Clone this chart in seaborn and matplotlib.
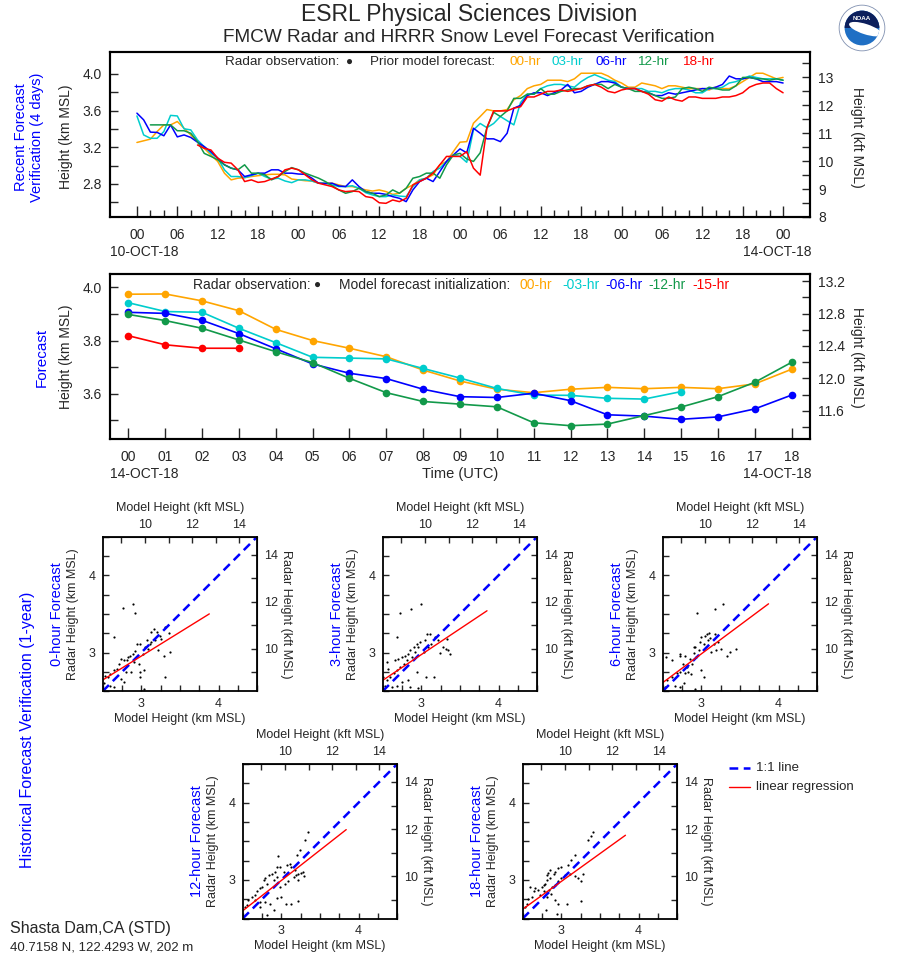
import numpy as np
import pandas as pd
import seaborn as sns
import matplotlib.pyplot as plt
from matplotlib.ticker import MultipleLocator, FixedLocator, FuncFormatter, FormatStrFormatter
from matplotlib.patches import Circle, Wedge, Ellipse
from matplotlib.lines import Line2D

sns.set_style("ticks")
plt.rcParams["font.family"] = ["Liberation Sans", "DejaVu Sans"]

W, H = 898, 956
KM_PER_KFT = 0.3048

# -------------------------
# data
# -------------------------
# recent 4-day verification, hourly, kft MSL (every series ends at hour 96)
leads_top = ["00-hr", "03-hr", "06-hr", "12-hr", "18-hr"]
colors = ["#ffa500", "#00cdcd", "#0000ff", "#12994a", "#ff0000"]

top_00 = [10.67, 10.73, 10.79, 11.06, 11.30, 11.30, 11.42, 11.18, 10.94, 10.70,
          10.46, 10.22, 9.99, 9.57, 9.33, 9.39, 9.41, 9.45, 9.48, 9.51,
          9.53, 9.53, 9.51, 9.36, 9.33, 9.30, 9.29, 9.21, 9.21, 9.21,
          9.15, 9.09, 9.09, 9.03, 8.97, 8.93, 8.97, 8.91, 8.81, 8.85,
          9.03, 9.15, 9.33, 9.39, 9.51, 9.87, 9.99, 10.34, 10.68, 10.70,
          11.36, 11.60, 11.85, 11.80, 11.80, 11.85, 12.20, 12.35, 12.60, 12.70,
          12.75, 12.90, 12.90, 12.90, 12.85, 12.95, 13.15, 13.15, 13.15, 13.15,
          13.05, 12.90, 12.80, 12.65, 12.65, 12.80, 12.75, 12.70, 12.60, 12.70,
          12.70, 12.65, 12.60, 12.60, 12.60, 12.55, 12.65, 12.60, 12.60, 12.70,
          12.85, 13.00, 13.15, 13.15, 13.05, 12.95, 13.00]
top_03 = [11.62, 10.94, 10.82, 10.82, 11.06, 11.64, 11.62, 11.16, 11.12, 10.76,
          10.52, 10.28, 10.11, 9.69, 9.45, 9.45, 9.41, 9.48, 9.57, 9.45,
          9.36, 9.39, 9.29, 9.23, 9.33, 9.33, 9.29, 9.21, 9.21, 9.15,
          9.09, 9.09, 9.12, 9.03, 8.87, 8.79, 8.73, 8.73, 8.79, 8.75,
          8.73, 9.09, 9.33, 9.39, 9.63, 9.75, 9.99, 10.22, 10.17, 9.96,
          11.12, 11.35, 11.20, 11.35, 11.60, 11.45, 11.30, 12.10, 12.40, 12.40,
          12.60, 12.70, 12.75, 12.75, 12.70, 12.65, 12.85, 13.00, 13.10, 13.00,
          12.90, 12.85, 12.65, 12.60, 12.60, 12.60, 12.50, 12.50, 12.45, 12.55,
          12.60, 12.60, 12.55, 12.45, 12.45, 12.60, 12.60, 12.65, 12.80, 12.85,
          12.95, 13.05, 13.00, 12.95, 12.95, 12.95, 12.90]
top_06 = [11.72, 11.48, 11.04, 11.03, 10.91, 11.30, 10.87, 10.94, 10.85, 10.68,
          10.52, 10.34, 10.11, 9.87, 9.75, 9.69, 9.45, 9.51, 9.57, 9.57,
          9.69, 9.69, 9.57, 9.57, 9.54, 9.53, 9.39, 9.21, 9.20, 9.21,
          9.11, 9.09, 9.33, 9.09, 8.91, 8.85, 8.85, 8.81, 8.73, 8.67,
          8.55, 8.97, 9.27, 9.39, 9.27, 9.63, 9.99, 10.22, 10.44, 10.30,
          11.18, 11.00, 10.80, 10.80, 10.70, 11.00, 11.90, 12.00, 12.35, 12.45,
          12.45, 12.35, 12.45, 12.55, 12.75, 12.45, 12.50, 12.65, 12.75, 12.85,
          12.85, 12.80, 12.65, 12.60, 12.60, 12.50, 12.45, 12.35, 12.35, 12.45,
          12.40, 12.45, 12.50, 12.55, 12.60, 12.60, 12.65, 12.75, 13.05, 12.95,
          12.95, 13.00, 12.95, 12.85, 12.85, 12.85, 12.80]
top_12 = [11.30, 11.30, 11.30, 11.30, 11.09, 11.09, 11.00, 10.70,
          10.28, 10.17, 10.05, 9.87, 9.75, 9.69, 9.87, 9.57, 9.57, 9.51,
          9.33, 9.45, 9.63, 9.77, 9.69, 9.57, 9.48, 9.39, 9.27, 9.12,
          8.97, 8.85, 8.91, 9.03, 8.91, 8.85, 8.73, 8.79, 8.97, 8.85,
          9.03, 9.39, 9.45, 9.57, 9.57, 9.39, 9.87, 10.22, 10.28, 10.08,
          9.99, 10.30, 11.20, 11.75, 11.60, 11.80, 12.25, 12.25, 12.40, 12.40,
          12.60, 12.40, 12.40, 12.50, 12.55, 12.60, 12.60, 12.70, 12.75, 12.75,
          12.60, 12.75, 12.65, 12.60, 12.50, 12.50, 12.45, 12.35, 12.25, 12.25,
          12.30, 12.60, 12.65, 12.60, 12.50, 12.65, 12.60, 12.55, 12.55, 12.70,
          13.00, 13.00, 12.95, 12.95, 12.90, 12.95, 12.90]
top_18 = [10.58,
          10.46, 10.40, 10.11, 9.96, 9.93, 9.69, 9.27, 9.33, 9.24, 9.27,
          9.36, 9.45, 9.69, 9.75, 9.69, 9.51, 9.33, 9.21, 9.15, 9.09,
          8.97, 8.91, 8.93, 8.91, 8.73, 8.69, 8.51, 8.49, 8.61, 8.55,
          8.67, 9.15, 9.27, 9.39, 9.57, 9.87, 10.17, 10.17, 10.17, 10.34,
          9.75, 9.50, 11.20, 11.80, 11.80, 11.80, 11.90, 11.95, 12.30, 12.30,
          12.40, 12.50, 12.50, 12.55, 12.50, 12.55, 12.60, 12.70, 12.75, 12.65,
          12.50, 12.45, 12.55, 12.60, 12.60, 12.50, 12.40, 12.20, 12.15, 12.30,
          12.20, 12.15, 12.30, 12.30, 12.25, 12.25, 12.25, 12.30, 12.30, 12.35,
          12.45, 12.65, 12.75, 12.80, 12.80, 12.60, 12.45]

# today's forecast, km MSL, hours 00-18 UTC (series start at 00)
leads_mid = ["00-hr", "-03-hr", "-06-hr", "-12-hr", "-15-hr"]
mid_00 = [3.974, 3.975, 3.949, 3.912, 3.842, 3.800, 3.771, 3.739, 3.689, 3.648,
          3.617, 3.604, 3.617, 3.624, 3.619, 3.624, 3.619, 3.637, 3.692]
mid_03 = [3.942, 3.909, 3.906, 3.846, 3.792, 3.737, 3.734, 3.731, 3.695, 3.659,
          3.620, 3.595, 3.594, 3.583, 3.580, 3.608]
mid_06 = [3.906, 3.902, 3.876, 3.826, 3.769, 3.712, 3.677, 3.657, 3.617, 3.589,
          3.586, 3.602, 3.574, 3.521, 3.516, 3.504, 3.513, 3.543, 3.595]
mid_12 = [3.898, 3.875, 3.846, 3.802, 3.758, 3.717, 3.658, 3.604, 3.571, 3.561,
          3.551, 3.491, 3.480, 3.486, 3.518, 3.550, 3.589, 3.643, 3.718]
mid_15 = [3.818, 3.784, 3.771, 3.771]

# 1-year verification scatter (model km, radar km)
sc_titles = ["0-hour Forecast", "3-hour Forecast", "6-hour Forecast",
             "12-hour Forecast", "18-hour Forecast"]
p0_x = [2.76, 2.89, 2.92, 2.65, 3.17, 3.20, 3.24, 3.30, 3.36, 3.29, 3.37, 3.18, 3.11, 3.05, 2.98,
        2.94, 2.92, 2.89, 2.85, 2.82, 2.77, 2.74, 2.71, 2.68, 2.64, 2.60, 2.57, 2.53, 2.52, 2.59,
        2.65, 2.77, 2.86, 2.98, 3.03, 2.97, 2.90, 2.98, 3.03, 3.30, 3.13, 3.22, 3.09, 3.02, 2.80,
        2.74, 2.83, 3.13, 3.07, 3.26]
p0_y = [3.58, 3.63, 3.51, 3.20, 3.31, 3.27, 3.22, 3.33, 3.25, 2.95, 3.01, 3.16, 3.11, 3.07, 3.11,
        3.11, 3.02, 2.98, 2.96, 2.90, 2.91, 2.92, 2.85, 2.79, 2.77, 2.72, 2.68, 2.70, 2.60, 2.57,
        2.55, 2.62, 2.75, 2.75, 2.77, 2.85, 2.88, 2.68, 2.53, 2.68, 3.14, 3.03, 3.05, 2.98, 2.75,
        2.66, 2.94, 3.27, 3.16, 3.18]
p3_x = [2.72, 2.86, 3.00, 2.68, 2.55, 2.66, 2.70, 2.75, 2.79, 2.83, 2.85, 2.90, 2.94, 2.98, 2.96,
        2.92, 2.88, 2.81, 2.77, 2.72, 2.68, 2.64, 2.59, 2.55, 2.53, 2.62, 2.68, 2.75, 2.83, 2.95,
        3.06, 3.16, 2.85, 2.96, 3.03, 3.09, 3.11, 3.18, 3.22, 3.24, 3.28, 3.32, 3.35, 3.37, 3.33,
        3.07, 3.05, 3.13, 2.57, 2.51]
p3_y = [3.51, 3.57, 3.63, 3.20, 2.88, 2.91, 2.92, 2.94, 2.96, 2.98, 3.03, 3.07, 3.11, 3.14, 3.07,
        3.01, 2.94, 2.90, 2.85, 2.81, 2.77, 2.73, 2.68, 2.64, 2.57, 2.55, 2.57, 2.62, 2.64, 2.75,
        2.68, 2.68, 2.55, 2.54, 3.01, 3.07, 3.24, 3.20, 3.16, 2.99, 3.07, 3.05, 3.03, 2.98, 3.18,
        3.24, 3.16, 3.11, 2.79, 2.68]
p6_x = [3.18, 3.28, 2.95, 2.54, 2.62, 2.72, 2.79, 2.73, 2.85, 2.90, 2.92, 2.98, 3.00, 3.05, 3.07,
        3.10, 3.11, 3.18, 3.03, 2.97, 2.93, 2.88, 2.83, 2.79, 2.72, 2.68, 2.62, 2.55, 2.53, 2.66,
        2.72, 2.78, 2.92, 3.00, 3.03, 2.86, 2.81, 2.76, 3.13, 3.19, 3.25, 3.33, 3.37, 3.45, 3.16,
        3.08, 3.22, 2.90]
p6_y = [3.57, 3.63, 3.51, 2.94, 2.90, 2.95, 2.95, 2.98, 2.92, 2.99, 3.07, 3.14, 3.20, 3.22, 3.24,
        3.25, 3.19, 3.24, 3.11, 3.03, 2.94, 2.85, 2.75, 2.73, 2.75, 2.73, 2.68, 2.64, 2.55, 2.57,
        2.55, 2.60, 2.53, 2.77, 2.68, 2.72, 2.81, 2.85, 3.01, 3.03, 3.05, 2.96, 3.01, 3.04, 3.11,
        3.16, 3.14, 3.07]
p12_x = [3.35, 3.31, 2.96, 3.24, 3.20, 3.11, 3.07, 2.98, 2.94, 2.92, 2.88, 2.84, 2.79, 2.77, 2.82,
         2.75, 2.72, 2.68, 2.66, 2.62, 2.57, 2.55, 2.53, 2.66, 2.72, 2.79, 2.85, 2.94, 3.00, 3.06,
         3.12, 3.22, 2.90, 2.82, 2.72, 2.98, 3.05, 3.09, 3.16, 3.19, 3.22, 3.25, 3.28, 3.29, 3.22,
         3.18, 3.13, 3.03, 2.95, 2.90]
p12_y = [3.62, 3.52, 3.31, 3.39, 3.32, 3.21, 3.19, 3.17, 3.17, 3.10, 3.08, 3.06, 3.02, 3.00, 2.95,
         2.91, 2.89, 2.85, 2.80, 2.78, 2.74, 2.67, 2.65, 2.74, 2.72, 2.72, 2.69, 2.76, 2.78, 2.69,
         2.69, 2.73, 2.61, 2.54, 2.65, 2.91, 2.95, 2.98, 3.04, 3.06, 3.08, 3.09, 3.10, 3.05, 3.00,
         3.13, 3.17, 3.10, 3.04, 3.00]
p18_x = [3.41, 3.38, 3.35, 2.85, 2.83, 2.81, 3.18, 3.13, 3.09, 3.00, 2.96, 2.92, 2.90, 2.85, 2.82,
         2.79, 2.77, 2.75, 2.70, 2.65, 2.62, 2.57, 2.55, 2.53, 2.59, 2.66, 2.72, 2.81, 2.86, 2.92,
         2.96, 3.07, 2.80, 2.94, 3.25, 3.22, 3.18, 3.26, 3.28, 3.11, 3.05, 3.00, 2.96, 2.92, 2.88,
         2.84, 2.77]
p18_y = [3.62, 3.57, 3.52, 3.13, 3.09, 3.06, 3.32, 3.26, 3.19, 3.17, 3.16, 3.10, 3.08, 3.02, 3.00,
         2.95, 2.93, 2.91, 2.87, 2.85, 2.78, 2.75, 2.69, 2.65, 2.91, 2.89, 2.80, 2.78, 2.82, 2.74,
         2.69, 2.69, 2.61, 2.56, 2.73, 3.02, 3.05, 2.98, 3.08, 3.08, 3.06, 3.02, 2.98, 2.93, 2.91,
         2.87, 2.85]
reg_slope = [0.620, 0.667, 0.745, 0.784, 0.720]
reg_icpt = [1.095, 0.973, 0.748, 0.640, 0.820]
reg_xmax = [3.88, 3.85, 3.87, 3.84, 3.83]
one_to_one = [2.5, 4.5]

# -------------------------
# helpers
# -------------------------
fig = plt.figure(figsize=(W / 100, H / 100), dpi=100)


def box(l, t, r, b):
    return [l / W, 1 - b / H, (r - l) / W, (b - t) / H]


def ftext(x, y, s, **kw):
    kw.setdefault("ha", "center")
    kw.setdefault("va", "center")
    fig.text(x / W, 1 - y / H, s, **kw)


def km2kft(v):
    return np.asarray(v) / KM_PER_KFT


def kft2km(v):
    return np.asarray(v) * KM_PER_KFT


def frame(ax, lw=1.5):
    for s in ax.spines.values():
        s.set_linewidth(lw)
        s.set_color("black")


# titles
ftext(469, 14, "ESRL Physical Sciences Division", fontsize=16.5)
ftext(469, 38, "FMCW Radar and HRRR Snow Level Forecast Verification", fontsize=13.7)

# NOAA logo (rough)
lax = fig.add_axes(box(838, 4, 886, 52))
lax.set_xlim(-1.05, 1.05)
lax.set_ylim(-1.05, 1.05)
lax.set_aspect("equal")
lax.axis("off")
lax.add_patch(Circle((0, 0), 1.0, fc="white", ec="#8090b0", lw=0.6))
inner = Circle((0, 0), 0.76, fc="#1f6fc4", ec="none")
lax.add_patch(inner)
top_w = Wedge((0, 0), 0.76, 0, 180, fc="#0c1f5c", ec="none")
lax.add_patch(top_w)
sw = Ellipse((0.15, -0.05), 1.5, 0.45, angle=-18, fc="white", ec="none")
lax.add_patch(sw)
sw.set_clip_path(inner)
lax.text(0, 0.4, "NOAA", color="white", fontsize=4.5, ha="center", va="center", fontweight="bold")

# -------------------------
# top panel: recent 4 days
# -------------------------
rows = []
for lead, vals in zip(leads_top, [top_00, top_03, top_06, top_12, top_18]):
    hrs = np.arange(97 - len(vals), 97)
    for h, v in zip(hrs, vals):
        rows.append((h, v * KM_PER_KFT, lead))
top_df = pd.DataFrame(rows, columns=["hour", "km", "lead"])

TOP_YMAX = 4.24
ax1 = fig.add_axes(box(110, 52, 810, 217))
sns.lineplot(data=top_df, x="hour", y="km", hue="lead", hue_order=leads_top,
             palette=dict(zip(leads_top, colors)), estimator=None, legend=False,
             lw=1.1, ax=ax1)
ax1.set_xlim(-4, 100)
ax1.set_ylim(8 * KM_PER_KFT, TOP_YMAX)
ax1.set_xlabel("")
ax1.set_ylabel("")
ax1.xaxis.set_major_locator(FixedLocator(np.arange(0, 97, 6)))
ax1.xaxis.set_minor_locator(FixedLocator(np.arange(0, 97, 2)))
ax1.xaxis.set_major_formatter(FuncFormatter(lambda v, p: f"{int(round(v)) % 24:02d}"))
ax1.yaxis.set_major_locator(FixedLocator([2.8, 3.2, 3.6, 4.0]))
ax1.yaxis.set_minor_locator(FixedLocator([2.6, 3.0, 3.4, 3.8]))
ax1.yaxis.set_major_formatter(FormatStrFormatter("%.1f"))
ax1.tick_params(axis="x", which="major", direction="in", length=8, width=1, labelsize=10, pad=8)
ax1.tick_params(axis="x", which="minor", direction="in", length=5, width=1)
ax1.tick_params(axis="y", which="both", direction="in", length=6, width=1, labelsize=10, pad=6)
frame(ax1)
ax1r = ax1.twinx()
ax1r.set_ylim(8, TOP_YMAX / KM_PER_KFT)
ax1r.yaxis.set_major_locator(FixedLocator([8, 9, 10, 11, 12, 13]))
ax1r.yaxis.set_minor_locator(FixedLocator([8.5, 9.5, 10.5, 11.5, 12.5, 13.5]))
ax1r.tick_params(axis="y", which="both", direction="in", length=6, width=1, labelsize=10, pad=6)
frame(ax1r)

ftext(225, 62, "Radar observation:", ha="left", fontsize=9.7)
ftext(350, 62, "●", fontsize=8.5)
ftext(370, 62, "Prior model forecast:", ha="left", fontsize=9.7)
for lead, c, x in zip(leads_top, colors, [509, 552, 595, 637, 682]):
    ftext(x, 62, lead, ha="left", fontsize=9.7, color=c)
ftext(110, 252, "10-OCT-18", ha="left", fontsize=10)
ftext(811, 252, "14-OCT-18", ha="right", fontsize=10)
ftext(29, 137, "Recent Forecast\nVerification (4 days)", rotation=90, fontsize=10.5,
      color="blue", linespacing=1.25)
ftext(66, 137, "Height (km MSL)", rotation=90, fontsize=10)
ftext(857, 137, "Height (kft MSL)", rotation=-90, fontsize=10)

# -------------------------
# middle panel: today's forecast
# -------------------------
rows = []
for lead, vals in zip(leads_mid, [mid_00, mid_03, mid_06, mid_12, mid_15]):
    for h, v in enumerate(vals):
        rows.append((h, v, lead))
mid_df = pd.DataFrame(rows, columns=["hour", "km", "lead"])

ax2 = fig.add_axes(box(110, 274, 810, 439))
sns.lineplot(data=mid_df, x="hour", y="km", hue="lead", hue_order=leads_mid,
             palette=dict(zip(leads_mid, colors)), estimator=None, legend=False,
             lw=1.2, marker="o", markersize=5.5, markeredgewidth=0, ax=ax2)
ax2.set_xlim(-0.5, 18.5)
ax2.set_ylim(3.43, 4.05)
ax2.set_xlabel("")
ax2.set_ylabel("")
ax2.xaxis.set_major_locator(FixedLocator(np.arange(0, 19, 1)))
ax2.xaxis.set_major_formatter(FuncFormatter(lambda v, p: f"{int(round(v)):02d}"))
ax2.yaxis.set_major_locator(FixedLocator([3.6, 3.8, 4.0]))
ax2.yaxis.set_minor_locator(FixedLocator([3.5, 3.7, 3.9]))
ax2.yaxis.set_major_formatter(FormatStrFormatter("%.1f"))
ax2.tick_params(axis="x", which="major", direction="in", length=8, width=1, labelsize=10, pad=8)
ax2.tick_params(axis="y", which="both", direction="in", length=6, width=1, labelsize=10, pad=6)
frame(ax2)
ax2r = ax2.twinx()
ax2r.set_ylim(3.43 / KM_PER_KFT, 4.05 / KM_PER_KFT)
ax2r.yaxis.set_major_locator(FixedLocator([11.6, 12.0, 12.4, 12.8, 13.2]))
ax2r.yaxis.set_minor_locator(FixedLocator([11.4, 11.8, 12.2, 12.6, 13.0]))
ax2r.yaxis.set_major_formatter(FormatStrFormatter("%.1f"))
ax2r.tick_params(axis="y", which="both", direction="in", length=6, width=1, labelsize=10, pad=6)
frame(ax2r)

ftext(193, 285, "Radar observation:", ha="left", fontsize=10)
ftext(318, 285, "●", fontsize=8.5)
ftext(339, 285, "Model forecast initialization:", ha="left", fontsize=10)
for lead, c, x in zip(leads_mid, colors, [519, 562, 605, 648, 692]):
    ftext(x, 285, lead, ha="left", fontsize=10, color=c)
ftext(110, 474, "14-OCT-18", ha="left", fontsize=10)
ftext(811, 474, "14-OCT-18", ha="right", fontsize=10)
ftext(460, 474, "Time (UTC)", fontsize=10.5)
ftext(42, 357, "Forecast", rotation=90, fontsize=11, color="blue")
ftext(66, 357, "Height (km MSL)", rotation=90, fontsize=10)
ftext(857, 357, "Height (kft MSL)", rotation=-90, fontsize=10)

# -------------------------
# scatter panels
# -------------------------
sc_x = [p0_x, p3_x, p6_x, p12_x, p18_x]
sc_y = [p0_y, p3_y, p6_y, p12_y, p18_y]
sc_pos = [(102.7, 536.7), (382.7, 536.7), (662.7, 536.7), (242.7, 764.0), (522.7, 764.0)]
S = 154.5
for i, (l, t) in enumerate(sc_pos):
    r, b = l + S, t + S
    ax = fig.add_axes(box(l, t, r, b))
    sns.scatterplot(x=sc_x[i], y=sc_y[i], s=2.5, color="black", linewidth=0, ax=ax)
    ax.plot(one_to_one, one_to_one, color="blue", lw=1.8, ls=(0, (3.5, 2.2)))
    xr = np.array([one_to_one[0], reg_xmax[i]])
    ax.plot(xr, reg_icpt[i] + reg_slope[i] * xr, color="red", lw=1.0)
    ax.set_xlim(2.5, 4.5)
    ax.set_ylim(2.5, 4.5)
    ax.xaxis.set_major_locator(MultipleLocator(1))
    ax.xaxis.set_minor_locator(MultipleLocator(0.25))
    ax.yaxis.set_major_locator(MultipleLocator(1))
    ax.yaxis.set_minor_locator(MultipleLocator(0.25))
    ax.xaxis.set_major_formatter(FormatStrFormatter("%d"))
    ax.yaxis.set_major_formatter(FormatStrFormatter("%d"))
    ax.tick_params(which="both", direction="in", length=4.5, width=1, labelsize=9,
                   pad=5, top=False, right=False)
    frame(ax, 1.3)
    secx = ax.secondary_xaxis("top", functions=(km2kft, kft2km))
    secx.xaxis.set_major_locator(MultipleLocator(2))
    secx.xaxis.set_minor_locator(MultipleLocator(1))
    secx.xaxis.set_major_formatter(FormatStrFormatter("%d"))
    secx.tick_params(which="both", direction="in", length=4.5, width=1, labelsize=9, pad=4)
    secy = ax.secondary_yaxis("right", functions=(km2kft, kft2km))
    secy.yaxis.set_major_locator(MultipleLocator(2))
    secy.yaxis.set_minor_locator(MultipleLocator(1))
    secy.yaxis.set_major_formatter(FormatStrFormatter("%d"))
    secy.tick_params(which="both", direction="in", length=4.5, width=1, labelsize=9, pad=5)
    cx, cy = l + S / 2, t + S / 2
    ftext(cx, t - 29, "Model Height (kft MSL)", fontsize=9)
    ftext(cx, b + 28, "Model Height (km MSL)", fontsize=9)
    ftext(l - 30, cy, "Radar Height (km MSL)", rotation=90, fontsize=9)
    ftext(l - 46, cy, sc_titles[i], rotation=90, fontsize=10.5, color="blue")
    ftext(r + 29, cy, "Radar Height (kft MSL)", rotation=-90, fontsize=9)

ftext(28, 730, "Historical Forecast Verification (1-year)", rotation=90, fontsize=11.5, color="blue")

# legend for scatter lines
fig.add_artist(Line2D([729 / W, 750 / W], [1 - 768 / H, 1 - 768 / H], color="blue", lw=1.8,
                      ls=(0, (3.5, 2.2)), transform=fig.transFigure))
fig.add_artist(Line2D([729 / W, 750 / W], [1 - 787 / H, 1 - 787 / H], color="red", lw=1.0,
                      transform=fig.transFigure))
ftext(756, 768, "1:1 line", ha="left", fontsize=9.5)
ftext(756, 787, "linear regression", ha="left", fontsize=9.5)

# station
ftext(10, 929, "Shasta Dam,CA (STD)", ha="left", fontsize=11.5)
ftext(10, 948, "40.7158 N, 122.4293 W, 202 m", ha="left", fontsize=9.5)

fig.savefig("out.png", dpi=100, facecolor="white")
